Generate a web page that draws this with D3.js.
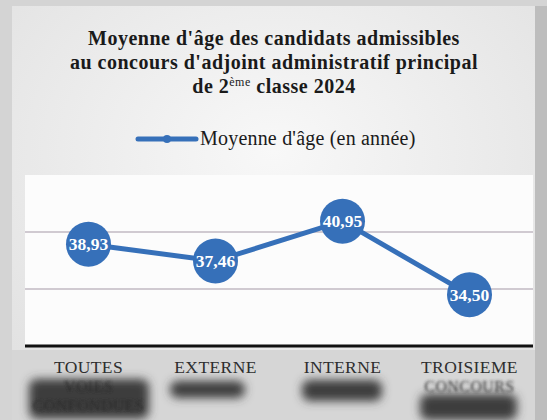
<!DOCTYPE html>
<html>
<head>
<meta charset="utf-8">
<script src="https://cdn.jsdelivr.net/npm/d3@7"></script>
<style>
  body { margin: 0; background: #cfcfcf; }
  svg { display: block; }
</style>
</head>
<body>
<script>
// Data
var categories = ["TOUTES VOIES CONFONDUES", "EXTERNE", "INTERNE", "TROISIEME CONCOURS"];
var labelLines = [["TOUTES", "VOIES", "CONFONDUES"], ["EXTERNE"], ["INTERNE"], ["TROISIEME", "CONCOURS"]];
var ages = [38.93, 37.46, 40.95, 34.50];
var ageLabels = ["38,93", "37,46", "40,95", "34,50"];
var yTicks = [35, 40];
var yDomain = [30, 45];
var seriesName = "Moyenne d'âge (en année)";

var w = 547;
var h = 420;
var blue = "#3670b9";
var serif = "'Liberation Serif', 'DejaVu Serif', serif";

var svg = d3.select("body").
append("svg").
attr("width", w).
attr("height", h);

var defs = svg.append("defs");
var grad = defs.append("radialGradient").
attr("id", "paper").
attr("cx", "50%").attr("cy", "35%").attr("r", "75%");
grad.append("stop").attr("offset", "0%").attr("stop-color", "#f8f8f8");
grad.append("stop").attr("offset", "100%").attr("stop-color", "#e0e0e0");

defs.append("filter").attr("id", "blur").
attr("x", "-30%").attr("y", "-60%").attr("width", "160%").attr("height", "220%").
append("feGaussianBlur").attr("stdDeviation", 5);
defs.append("filter").attr("id", "soft").
append("feGaussianBlur").attr("stdDeviation", 1.4);

// scanned page background
svg.append("rect").
attr("width", w).attr("height", h).
attr("fill", "#d4d4d4");
svg.append("rect").
attr("x", 12).attr("y", 6).
attr("width", 523).attr("height", h - 6).
attr("fill", "url(#paper)");
svg.append("rect").
attr("x", 535).attr("y", 6).
attr("width", 12).attr("height", h).
attr("fill", "#bdbdbd");
svg.append("rect").
attr("x", 12).attr("y", 350).
attr("width", 523).attr("height", 70).
attr("fill", "#d6d6d6");

// scales
var x = d3.scalePoint().
domain(categories).
range([25, 533]).
padding(0.5);

var y = d3.scaleLinear().
domain(yDomain).
range([346, 175]);

// plot area
svg.append("rect").
attr("x", 25).attr("y", y(yDomain[1])).
attr("width", 508).attr("height", y(yDomain[0]) - y(yDomain[1])).
attr("fill", "#fcfcfc");

// grid lines
svg.append("g").
selectAll("line").
data(yTicks).
enter().append("line").
attr("x1", 25).attr("x2", 533).
attr("y1", function (d) {return y(d);}).
attr("y2", function (d) {return y(d);}).
attr("stroke", "#a497a6").
attr("stroke-width", 1.2);

// x axis
var xAxis = svg.append("g").
attr("transform", "translate(0," + y(yDomain[0]) + ")").
call(d3.axisBottom(x).tickSize(0).tickFormat(""));
xAxis.select(".domain").
attr("d", "M25,0H533").
attr("stroke", "#111").
attr("stroke-width", 3);

// blurred patches under the category labels
var blobs = [[29, 379, 120, 40], [170, 381, 75, 17], [302, 380, 80, 21], [420, 394, 97, 26]];
svg.append("g").
selectAll("rect").
data(blobs).
enter().append("rect").
attr("x", function (d) {return d[0];}).
attr("y", function (d) {return d[1];}).
attr("width", function (d) {return d[2];}).
attr("height", function (d) {return d[3];}).
attr("rx", 8).
attr("fill", "#3e3e3e").
attr("filter", "url(#blur)");

// category labels
var cat = svg.append("g").
selectAll("g").
data(categories).
enter().append("g").
attr("transform", function (d) {return "translate(" + x(d) + ",0)";});

cat.each(function (d, i) {
  var lines = labelLines[i];
  for (var k = 0; k < lines.length; k++) {
    d3.select(this).append("text").
    attr("y", 373 + k * 19).
    attr("text-anchor", "middle").
    attr("font-family", serif).
    attr("font-size", k === 0 ? "17.5px" : "16px").
    attr("letter-spacing", "0.4px").
    attr("fill", k === 0 ? "#2e2e2e" : "#2a2a2a").
    attr("filter", k === 0 ? null : "url(#soft)").
    text(lines[k]);
  }
});

// line
svg.append("path").
datum(ages).
attr("fill", "none").
attr("stroke", blue).
attr("stroke-width", 5).
attr("d", d3.line().
x(function (d, i) {return x(categories[i]);}).
y(function (d) {return y(d);}));

// points
var pts = svg.append("g").
selectAll("g").
data(ages).
enter().append("g").
attr("transform", function (d, i) {return "translate(" + x(categories[i]) + "," + y(d) + ")";});

pts.append("circle").
attr("r", 22.5).
attr("fill", blue);

pts.append("text").
attr("text-anchor", "middle").
attr("dy", "0.35em").
attr("font-family", serif).
attr("font-weight", "bold").
attr("font-size", "17.5px").
attr("fill", "#fff").
text(function (d, i) {return ageLabels[i];});

// title
var title = svg.append("text").
attr("text-anchor", "middle").
attr("font-family", serif).
attr("font-weight", "bold").
attr("font-size", "20px").
attr("letter-spacing", "0.5px").
attr("fill", "#1a1a1a");

title.append("tspan").
attr("x", 274).attr("y", 45).
text("Moyenne d'âge des candidats admissibles");
title.append("tspan").
attr("x", 274).attr("y", 69).
text("au concours d'adjoint administratif principal");
var l3 = title.append("tspan").
attr("x", 274).attr("y", 93);
l3.append("tspan").text("de 2");
l3.append("tspan").
attr("font-size", "12px").
attr("font-weight", "normal").
attr("dy", -7).
text("ème");
l3.append("tspan").
attr("dy", 7).
text(" classe 2024");

// legend
var legend = svg.append("g");
legend.append("line").
attr("x1", 138).attr("x2", 196).
attr("y1", 139).attr("y2", 139).
attr("stroke", blue).
attr("stroke-width", 5).
attr("stroke-linecap", "round");
legend.append("circle").
attr("cx", 167).attr("cy", 139).
attr("r", 4).
attr("fill", blue);
legend.append("text").
attr("x", 200).attr("y", 145).
attr("font-family", serif).
attr("font-size", "20px").
attr("letter-spacing", "0.2px").
attr("fill", "#1a1a1a").
text(seriesName);
</script>
</body>
</html>
